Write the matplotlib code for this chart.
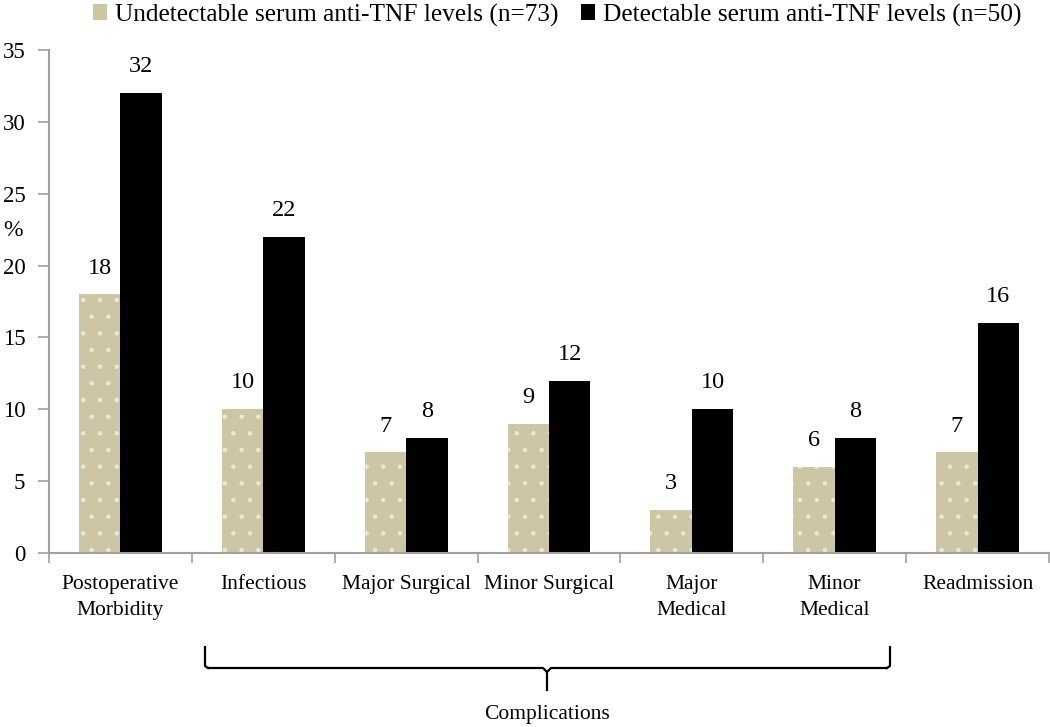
import matplotlib
matplotlib.use("Agg")
import matplotlib.pyplot as plt
from matplotlib.patches import Patch
import numpy as np

categories = ["Postoperative\nMorbidity", "Infectious", "Major Surgical", "Minor Surgical",
              "Major\nMedical", "Minor\nMedical", "Readmission"]
undetectable = [18, 10, 7, 9, 3, 6, 7]
detectable = [32, 22, 8, 12, 10, 8, 16]
series_labels = ["Undetectable serum anti-TNF levels (n=73)",
                 "Detectable serum anti-TNF levels (n=50)"]
yticks = [0, 5, 10, 15, 20, 25, 30, 35]

plt.rcParams['font.family'] = ['Liberation Serif', 'DejaVu Serif']
plt.rcParams['hatch.linewidth'] = 0.8

W, H = 1050, 727
fig = plt.figure(figsize=(W / 100, H / 100), dpi=100)
ax = fig.add_axes([49 / W, 1 - 553 / H, (1049 - 49) / W, (553 - 50) / H])

tan = "#cdc6a5"
x = np.arange(len(categories))
bw = 0.29
b1 = ax.bar(x - bw / 2, undetectable, bw, color=tan, edgecolor="#ebe7da", linewidth=0,
            hatch=".", zorder=2)
b2 = ax.bar(x + bw / 2, detectable, bw, color="black", linewidth=0, zorder=2)
for rect, v in zip(b1, undetectable):
    ax.text(rect.get_x() + rect.get_width() / 2, v + 1.1, str(v), ha="center",
            va="bottom", fontsize=17.5)
for rect, v in zip(b2, detectable):
    ax.text(rect.get_x() + rect.get_width() / 2, v + 1.1, str(v), ha="center",
            va="bottom", fontsize=17.5)

ax.set_xlim(-0.5, len(categories) - 0.5)
ax.set_ylim(0, 35)
ax.set_yticks(yticks)
ax.set_xticks(x)
ax.set_xticklabels(categories, fontsize=15.5, linespacing=1.45)
ax.set_xticks(np.arange(len(categories) + 1) - 0.5, minor=True)
ax.tick_params(axis="x", which="major", length=0, pad=16)
ax.tick_params(axis="x", which="minor", length=7, color="#a0a0a0", width=1.2, direction="out")
ax.tick_params(axis="y", length=8, color="#a0a0a0", width=1.2, labelsize=16.5, pad=9)
for s in ["top", "right"]:
    ax.spines[s].set_visible(False)
for s in ["left", "bottom"]:
    ax.spines[s].set_color("#a0a0a0")
    ax.spines[s].set_linewidth(1.5)

fig.text(13 / W, 1 - 230 / H, "%", fontsize=17, ha="center", va="center")

# bracket (figure pixel coords)
def px(xp, yp):
    return xp / W, 1 - yp / H
xl, xr, xm = 205, 890, 547
ytop, yh, ytip = 647, 668, 690
lines = [
    [(xl, ytop), (xl, yh - 2), (xl + 3, yh)],
    [(xl + 3, yh), (xm - 4, yh), (xm, yh + 4), (xm, ytip)],
    [(xr, ytop), (xr, yh - 2), (xr - 3, yh)],
    [(xr - 3, yh), (xm + 4, yh), (xm, yh + 4)],
]
for ln in lines:
    xs = [px(a, b)[0] for a, b in ln]
    ys = [px(a, b)[1] for a, b in ln]
    fig.add_artist(plt.Line2D(xs, ys, color="black", linewidth=1.6, transform=fig.transFigure))
fig.text(*px(547, 714), "Complications", fontsize=15.5, ha="center", va="center")

handles = [Patch(facecolor=tan, edgecolor="none"), Patch(facecolor="black", edgecolor="none")]
fig.legend(handles, series_labels, loc="center", bbox_to_anchor=(557 / W, 1 - 15 / H),
           ncol=2, frameon=False, fontsize=18.3, handlelength=0.55, handleheight=0.55,
           handletextpad=0.3, columnspacing=0.9)

fig.savefig("out.png", dpi=100)
